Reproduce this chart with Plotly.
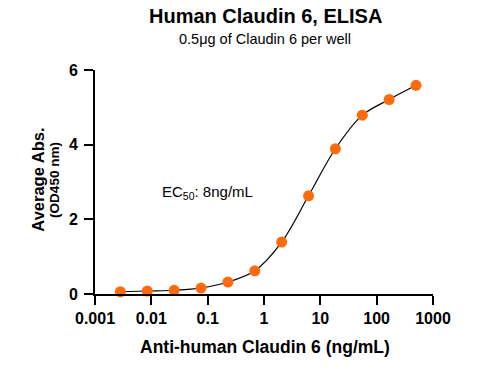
import plotly.graph_objects as go

conc = [0.00282, 0.00847, 0.0254, 0.0762, 0.229, 0.686, 2.06, 6.17, 18.5, 55.6, 166.7, 500]
absorb = [0.06, 0.08, 0.10, 0.16, 0.32, 0.62, 1.39, 2.63, 3.89, 4.79, 5.21, 5.59]
xticks = [0.001, 0.01, 0.1, 1, 10, 100, 1000]
xticklabels = ["0.001", "0.01", "0.1", "1", "10", "100", "1000"]
yticks = [0, 2, 4, 6]

FONT = "Liberation Sans, Arial, sans-serif"

fig = go.Figure()
fig.add_trace(go.Scatter(x=conc, y=absorb, mode="lines",
                         line=dict(color="black", width=1.2, shape="spline", smoothing=1.0),
                         hoverinfo="skip", showlegend=False, cliponaxis=False))
fig.add_trace(go.Scatter(x=conc, y=absorb, mode="markers",
                         marker=dict(color="#FF6A0D", size=11),
                         showlegend=False, cliponaxis=False))

axis_common = dict(showline=True, linecolor="black", linewidth=2, ticks="outside",
                   ticklen=9, tickwidth=2, tickcolor="black", showgrid=False, zeroline=False,
                   tickfont=dict(family=FONT, size=16, color="black", weight="bold"))

fig.update_xaxes(type="log", range=[-3, 3], tickvals=xticks, ticktext=xticklabels, **axis_common)
fig.update_yaxes(range=[0, 6], tickvals=yticks, ticklabelstandoff=3, **axis_common)

ann = [
    dict(text="<b>Human Claudin 6, ELISA</b>", x=0.503, y=1.242, font=dict(size=20)),
    dict(text="0.5μg of Claudin 6 per well", x=0.503, y=1.14, font=dict(size=14.5)),
    dict(text="<b>Anti-human Claudin 6 (ng/mL)</b>", x=0.503, y=-0.238, font=dict(size=17.5)),
    dict(text="<b>Average Abs.</b>", x=-0.169, y=0.51, textangle=-90, font=dict(size=16.5)),
    dict(text="<b>(OD450 nm)</b>", x=-0.118, y=0.51, textangle=-90, font=dict(size=13.5)),
    dict(text="EC<sub>50</sub>: 8ng/mL", x=0.192, y=0.451, xanchor="left", font=dict(size=15)),
]
for a in ann:
    a.setdefault("xanchor", "center")
    a["font"] = dict(family=FONT, color="black", **a["font"])
    fig.add_annotation(xref="paper", yref="paper", yanchor="middle", showarrow=False, **a)

fig.update_layout(width=502, height=372, margin=dict(l=95, r=69, t=69.5, b=77.5),
                  plot_bgcolor="white", paper_bgcolor="white",
                  font=dict(family=FONT, color="black"))

fig.write_html("out.html")
